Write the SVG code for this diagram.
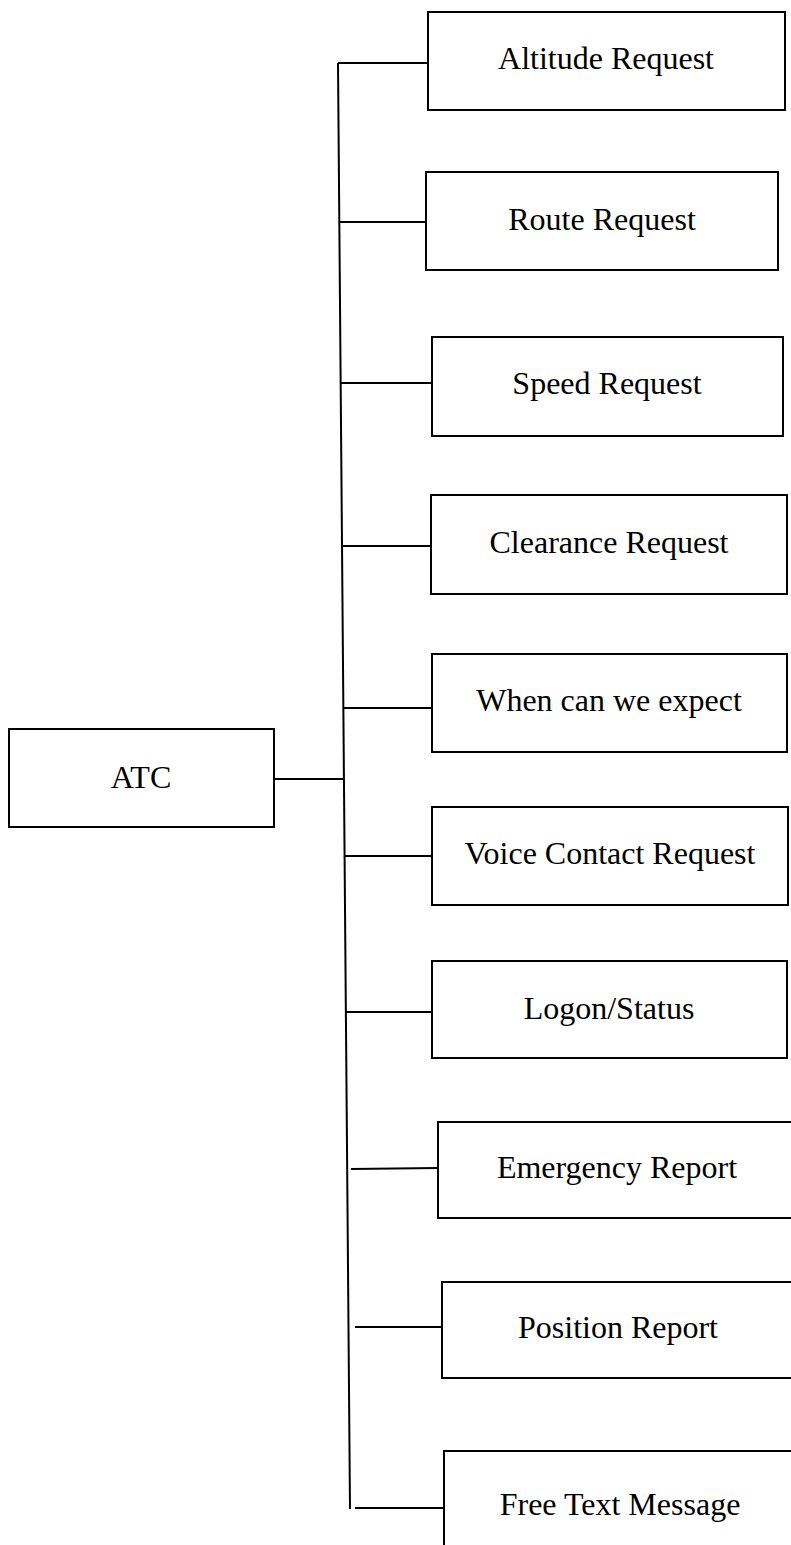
<svg xmlns="http://www.w3.org/2000/svg" width="791" height="1545" viewBox="0 0 791 1545">
<style>
.box{fill:#fff;stroke:#000;stroke-width:2}
.lbl{font-family:"Liberation Serif","Times New Roman",serif;font-size:32px;fill:#000;text-anchor:middle}
.ln{stroke:#000;stroke-width:2;fill:none}
</style>
<rect width="791" height="1545" fill="#fff"/>
<g id="connectors">
<line class="ln" x1="338" y1="63" x2="350" y2="1509"/>
<line class="ln" x1="274" y1="779" x2="344" y2="779"/>
<line class="ln" x1="338" y1="63" x2="428" y2="63"/>
<line class="ln" x1="340" y1="222" x2="426" y2="222"/>
<line class="ln" x1="341" y1="383" x2="432" y2="383"/>
<line class="ln" x1="342" y1="546" x2="431" y2="546"/>
<line class="ln" x1="343" y1="708" x2="432" y2="708"/>
<line class="ln" x1="345" y1="856" x2="432" y2="856"/>
<line class="ln" x1="346" y1="1012" x2="432" y2="1012"/>
<line class="ln" x1="351" y1="1169" x2="438" y2="1168"/>
<line class="ln" x1="355" y1="1327" x2="442" y2="1327"/>
<line class="ln" x1="355" y1="1508" x2="444" y2="1508"/>
</g>
<g id="atc"><rect class="box" x="9" y="729" width="265" height="98"/><text class="lbl" x="141" y="788">ATC</text></g>
<g id="altitude"><rect class="box" x="428" y="12" width="357" height="98"/><text class="lbl" x="606" y="69">Altitude Request</text></g>
<g id="route"><rect class="box" x="426" y="172" width="352" height="98"/><text class="lbl" x="602" y="230">Route Request</text></g>
<g id="speed"><rect class="box" x="432" y="337" width="351" height="99"/><text class="lbl" x="607" y="394">Speed Request</text></g>
<g id="clearance"><rect class="box" x="431" y="495" width="356" height="99"/><text class="lbl" x="609" y="553">Clearance Request</text></g>
<g id="when"><rect class="box" x="432" y="654" width="355" height="98"/><text class="lbl" x="609" y="711">When can we expect</text></g>
<g id="voice"><rect class="box" x="432" y="807" width="356" height="98"/><text class="lbl" x="610" y="864">Voice Contact Request</text></g>
<g id="logon"><rect class="box" x="432" y="961" width="355" height="97"/><text class="lbl" x="609" y="1019">Logon/Status</text></g>
<g id="emergency"><rect class="box" x="438" y="1122" width="370" height="96"/><text class="lbl" x="617" y="1178">Emergency Report</text></g>
<g id="position"><rect class="box" x="442" y="1282" width="370" height="96"/><text class="lbl" x="618" y="1338">Position Report</text></g>
<g id="freetext"><rect class="box" x="444" y="1451" width="370" height="120"/><text class="lbl" x="620" y="1515">Free Text Message</text></g>
</svg>
